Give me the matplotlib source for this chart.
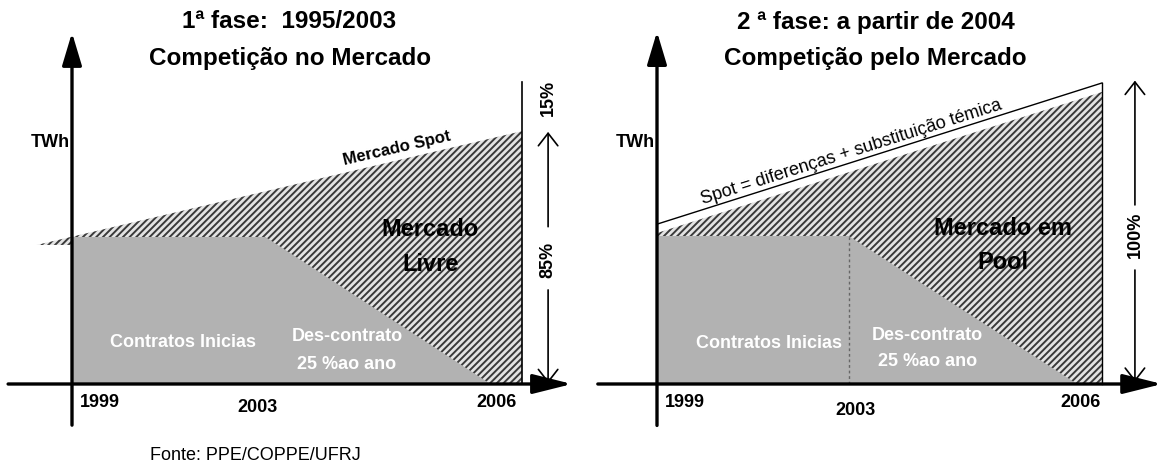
import matplotlib.pyplot as plt

plt.rcParams['font.family'] = ['Liberation Sans', 'DejaVu Sans']
plt.rcParams['hatch.linewidth'] = 1.4

# ---- dados (eixo x esquemático: 0 = 1999, 1 = 2006; y em % do contrato inicial)
anos = ['1999', '2003', '2006']

# 1a fase
x_demanda_1 = [-0.078, 1.0]
demanda_1 = [94.6, 172.0]
x_contrato_1 = [0.0, 0.43, 0.93]
contrato_1 = [100, 100, 0]
pos_anos_1 = [0.062, 0.413, 0.944]

# 2a fase
x_demanda_2 = [0.0, 1.0]
demanda_2 = [102.0, 197.3]
spot_2 = [108.0, 203.4]
x_contrato_2 = [0.0, 0.431, 0.944]
contrato_2 = [100, 100, 0]
pos_anos_2 = [0.063, 0.445, 0.951]

CINZA = '#b2b2b2'
HATCH_FC = '#e4e4e4'
HATCH_EC = '#3a3a3a'

W, H = 1158, 470
fig = plt.figure(figsize=(W / 100, H / 100), dpi=100)


def painel(x0, x1, ox, oy, sx, sy):
    # eixo ocupando a coluna [x0, x1] px da figura, origem dos dados em (ox, oy) px
    ax = fig.add_axes([x0 / W, 0, (x1 - x0) / W, 1])
    ax.set_xlim((x0 - ox) / sx, (x1 - ox) / sx)
    ax.set_ylim((oy - H) / sy, oy / sy)
    ax.axis('off')
    return ax


def seta(ax, p0, p1, lw, estilo):
    ax.annotate('', xy=p1, xytext=p0,
                arrowprops=dict(arrowstyle=estilo, lw=lw, color='black',
                                shrinkA=0, shrinkB=0, mutation_scale=20),
                annotation_clip=False)


def txt(ax, x, y, s, size, **kw):
    kw.setdefault('fontweight', 'bold')
    ax.text(x, y, s, ha='center', va='center', fontsize=size, **kw)


# ==========================================
# painel 1
# ==========================================
ax1 = painel(0, 579, 72, 384, 450, 1.47)

hx = [x_demanda_1[0], x_demanda_1[1], x_demanda_1[1], 0, 0]
hy = [demanda_1[0], demanda_1[1], 0, 0, demanda_1[0]]
ax1.fill(hx, hy, facecolor=HATCH_FC, edgecolor=HATCH_EC, hatch='/////', lw=0)
ax1.fill(x_contrato_1 + [0], contrato_1 + [0], facecolor=CINZA, lw=0)
ax1.plot([x_demanda_1[1]] * 2, [0, 205.4], color='black', lw=1.2)

seta(ax1, (0, -28), (0, 239), 2.4, '-|>,head_length=1.0,head_width=0.3')
seta(ax1, (-0.142, 0), (1.111, 0), 2.4, '-|>,head_length=1.2,head_width=0.3')

seta(ax1, (1.058, 107), (1.058, 171.5), 1.2, '->,head_length=0.45,head_width=0.35')
seta(ax1, (1.058, 64), (1.058, 0.5), 1.2, '->,head_length=0.45,head_width=0.35')
txt(ax1, 1.058, 194.6, '15%', 13, rotation=90)
txt(ax1, 1.058, 84.4, '85%', 13, rotation=90)

ax1.text(-0.005, 164.6, 'TWh', ha='right', va='center', fontsize=13, fontweight='bold')
txt(ax1, 0.722, 160.5, 'Mercado Spot', 12, rotation=13)
txt(ax1, 0.796, 104.8, 'Mercado', 17)
txt(ax1, 0.796, 81.0, 'Livre', 17)
txt(ax1, 0.247, 27.9, 'Contratos Inicias', 13, color='white')
txt(ax1, 0.611, 32.0, 'Des-contrato', 13, color='white')
txt(ax1, 0.611, 13.6, '25 %ao ano', 13, color='white')

for ano, px, py in zip(anos, pos_anos_1, [-12.9, -16.3, -12.9]):
    txt(ax1, px, py, ano, 13)

# ==========================================
# painel 2
# ==========================================
ax2 = painel(579, 1158, 657, 384, 445, 1.48)

hx = [x_demanda_2[0], x_demanda_2[1], x_demanda_2[1], x_demanda_2[0]]
hy = [demanda_2[0], demanda_2[1], 0, 0]
ax2.fill(hx, hy, facecolor=HATCH_FC, edgecolor=HATCH_EC, hatch='/////', lw=0)
ax2.fill(x_contrato_2 + [0], contrato_2 + [0], facecolor=CINZA, lw=0)
ax2.plot([x_contrato_2[1]] * 2, [0, contrato_2[1]], color='#666666', lw=1,
         ls=(0, (2, 2)))
ax2.plot(x_demanda_2, spot_2, color='black', lw=1)
ax2.plot([x_demanda_2[1]] * 2, [0, spot_2[1]], color='black', lw=1)

seta(ax2, (0, -28), (0, 238), 2.4, '-|>,head_length=1.0,head_width=0.3')
seta(ax2, (-0.133, 0), (1.135, 0), 2.4, '-|>,head_length=1.2,head_width=0.3')

seta(ax2, (1.074, 121), (1.074, 205), 1.2, '->,head_length=0.45,head_width=0.35')
seta(ax2, (1.074, 77), (1.074, 1.4), 1.2, '->,head_length=0.45,head_width=0.35')
txt(ax2, 1.074, 100.7, '100%', 13, rotation=90)

ax2.text(-0.005, 163.5, 'TWh', ha='right', va='center', fontsize=13, fontweight='bold')
txt(ax2, 0.436, 156.8, 'Spot = diferenças + substituição témica', 13,
    rotation=17.6, fontweight='normal')
txt(ax2, 0.778, 105.4, 'Mercado em', 17)
txt(ax2, 0.778, 81.8, 'Pool', 17)
txt(ax2, 0.252, 27.7, 'Contratos Inicias', 13, color='white')
txt(ax2, 0.607, 33.1, 'Des-contrato', 13, color='white')
txt(ax2, 0.607, 14.9, '25 %ao ano', 13, color='white')

for ano, px, py in zip(anos, pos_anos_2, [-12.8, -17.6, -12.2]):
    txt(ax2, px, py, ano, 13)

# ==========================================
# títulos e fonte
# ==========================================
fig.text(289 / W, 1 - 22 / H, '1ª fase:  1995/2003', ha='center', va='center',
         fontsize=17.5, fontweight='bold')
fig.text(290 / W, 1 - 58 / H, 'Competição no Mercado', ha='center', va='center',
         fontsize=17.5, fontweight='bold')
fig.text(876 / W, 1 - 22 / H, '2 ª fase: a partir de 2004', ha='center', va='center',
         fontsize=17.5, fontweight='bold')
fig.text(875 / W, 1 - 58 / H, 'Competição pelo Mercado', ha='center', va='center',
         fontsize=17.5, fontweight='bold')
fig.text(150 / W, 1 - 455 / H, 'Fonte: PPE/COPPE/UFRJ', ha='left', va='center',
         fontsize=13)

fig.savefig('out.png', dpi=100, facecolor='white')
